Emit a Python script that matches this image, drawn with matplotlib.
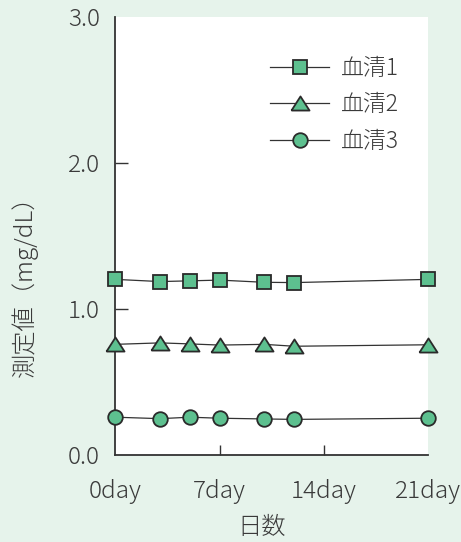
import matplotlib
matplotlib.use("Agg")
import matplotlib.pyplot as plt

plt.rcParams["font.family"] = ["Noto Sans CJK JP", "DejaVu Sans"]

# 日数と測定値（目視で読み取り）
days = [0, 3, 5, 7, 10, 12, 21]
serum1 = [1.20, 1.185, 1.19, 1.195, 1.18, 1.178, 1.20]
serum2 = [0.755, 0.765, 0.758, 0.75, 0.755, 0.742, 0.752]
serum3 = [0.256, 0.246, 0.256, 0.249, 0.244, 0.241, 0.249]
labels = ["血清1", "血清2", "血清3"]
xticks = [0, 7, 14, 21]
xticklabels = ["0day", "7day", "14day", "21day"]
yticks = [0.0, 1.0, 2.0, 3.0]

BG = "#e6f3eb"
FACE = "#5dc08f"
EDGE = "#2a2a2a"
TEXT = "#3a3a3a"
FS = 17.5

tri = [(-1, -0.78), (1, -0.78), (0, 0.78), (-1, -0.78)]

fig = plt.figure(figsize=(4.61, 5.42), dpi=100, facecolor=BG)
ax = fig.add_axes([0.2505, 0.1613, 0.6779, 0.8081])
ax.set_facecolor("white")

common = dict(color="#333333", lw=0.9, mfc=FACE, mec=EDGE, mew=1.3, clip_on=False)
ax.plot(days, serum1, marker="s", ms=9.5, label=labels[0], zorder=3, **common)
ax.plot(days, serum2, marker=tri, ms=13, label=labels[1], zorder=3, **common)
ax.plot(days, serum3, marker="o", ms=10.5, label=labels[2], zorder=3, **common)

ax.set_xlim(0, 21)
ax.set_ylim(0, 3.0)
ax.set_xticks(xticks)
ax.set_xticklabels(xticklabels, fontweight="light")
ax.set_yticks(yticks)
ax.set_yticklabels([f"{v:.1f}" for v in yticks], fontweight="light")

for s in ["top", "right"]:
    ax.spines[s].set_visible(False)
for s in ["left", "bottom"]:
    ax.spines[s].set_linewidth(1.3)
    ax.spines[s].set_color("#333333")

ax.tick_params(axis="y", direction="in", length=9, width=1.0, color="#333333",
               labelsize=FS, labelcolor=TEXT, pad=11)
ax.tick_params(axis="x", direction="in", length=7.5, width=1.0, color="#333333",
               labelsize=FS, labelcolor=TEXT, pad=17.5)
# 端の目盛り線は描かない
for t in (ax.yaxis.get_major_ticks()[0], ax.yaxis.get_major_ticks()[-1],
          ax.xaxis.get_major_ticks()[0], ax.xaxis.get_major_ticks()[-1]):
    t.tick1line.set_visible(False)

ax.set_ylabel("測定値（mg/dL）", fontsize=FS, color=TEXT, va="center",
              fontweight="light")
ax.yaxis.set_label_coords(-0.29, 0.399)
ax.set_xlabel("日数", fontsize=FS, color=TEXT, va="top", fontweight="light")
ax.xaxis.set_label_coords(0.469, -0.138)

leg = ax.legend(loc="upper left", bbox_to_anchor=(0.494, 0.911), frameon=False,
                prop={"size": 16.5, "weight": "light"}, handlelength=2.6,
                handletextpad=0.5, labelspacing=0.52, borderpad=0, borderaxespad=0)
for t in leg.get_texts():
    t.set_color(TEXT)

fig.savefig("out.png", dpi=100, facecolor=BG)
